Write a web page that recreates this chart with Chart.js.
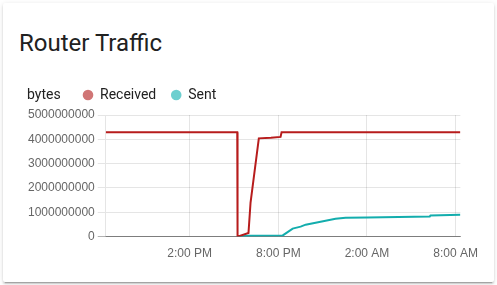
<!DOCTYPE html>
<html>
<head>
<meta charset="utf-8">
<script src="https://cdn.jsdelivr.net/npm/chart.js@4.4.0/dist/chart.umd.min.js"></script>
<style>
  body { margin: 0; background: #fff; }
  .card {
    position: absolute; left: 3px; top: 3px; width: 491px; height: 279px;
    background: #fff; border-radius: 2px;
    box-shadow: 0 2px 2px 0 rgba(0,0,0,.14), 0 1px 5px 0 rgba(0,0,0,.12), 0 3px 1px -2px rgba(0,0,0,.2);
  }
  .title {
    position: absolute; left: 16px; top: 24px;
    font: 24px/32px Roboto, sans-serif; color: #212121;
  }
  .chart-wrap { position: absolute; left: 16px; top: 71px; width: 469px; height: 197px; }
</style>
</head>
<body>
<div class="card">
  <div class="title">Router Traffic</div>
  <div class="chart-wrap"><canvas id="chart"></canvas></div>
</div>
<script>
// hours since midnight of the first day
const receivedHours = [8.32, 17.22, 17.24, 17.98, 18.12, 18.68, 19.5, 20.15, 20.22, 32.32];
const receivedBytes = [4.29e9, 4.29e9, 0, 0.15e9, 1.4e9, 4.04e9, 4.06e9, 4.1e9, 4.29e9, 4.29e9];

const sentHours = [17.23, 17.98, 20.3, 20.97, 21.51, 21.85, 22.86, 23.87, 24.55, 26.01, 30.25, 30.3, 32.32];
const sentBytes = [0, 0.04e9, 0.05e9, 0.33e9, 0.41e9, 0.49e9, 0.61e9, 0.73e9, 0.77e9, 0.79e9, 0.83e9, 0.87e9, 0.9e9];

const xTicks = [14, 20, 26, 32];
const xTickLabels = ['2:00 PM', '8:00 PM', '2:00 AM', '8:00 AM'];

const unitText = 'bytes';

const toPoints = (xs, ys) => xs.map((x, i) => ({ x: x, y: ys[i] }));

// draws the unit left of the legend and moves the legend over to make room
const unitLegend = {
    id: 'unitLegend',
    afterLayout(chart, args, opts) {
        const lg = chart.legend;
        lg.left += opts.shiftX;
        lg.right += opts.shiftX;
        lg.top += opts.shiftY;
        lg.bottom += opts.shiftY;
    },
    afterDraw(chart, args, opts) {
        const lg = chart.legend;
        const pad = lg.options.labels.padding;
        const ctx = chart.ctx;
        ctx.save();
        ctx.font = '14px Roboto';
        ctx.fillStyle = '#212121';
        ctx.textBaseline = 'middle';
        ctx.fillText(opts.text, lg.left - opts.shiftX + 2, lg.top + pad + 7);
        ctx.restore();
    }
};

const ctx = document.getElementById('chart').getContext('2d');
new Chart(ctx, {
    type: 'line',
    data: {
        datasets: [
            {
                label: 'Received',
                data: toPoints(receivedHours, receivedBytes),
                borderColor: '#b71c1c',
                backgroundColor: '#d07575',
                borderWidth: 2,
                pointRadius: 0,
                fill: false,
                tension: 0,
            },
            {
                label: 'Sent',
                data: toPoints(sentHours, sentBytes),
                borderColor: '#13adad',
                backgroundColor: '#6dcfcf',
                borderWidth: 2,
                pointRadius: 0,
                fill: false,
                tension: 0,
            },
        ],
    },
    plugins: [unitLegend],
    options: {
        responsive: true,
        maintainAspectRatio: false,
        animation: false,
        layout: {
            padding: { left: 6, top: 2, right: 0, bottom: 0 }
        },
        plugins: {
            unitLegend: { text: unitText, shiftX: 43, shiftY: -3 },
            legend: {
                display: true,
                position: 'top',
                align: 'start',
                labels: {
                    usePointStyle: true,
                    pointStyle: 'circle',
                    boxWidth: 10,
                    boxHeight: 7.5,
                    padding: 15,
                    color: '#212121',
                    font: { family: 'Roboto', size: 14 },
                    generateLabels: (chart) => {
                        const items = Chart.defaults.plugins.legend.labels.generateLabels(chart);
                        items.forEach(it => { it.strokeStyle = it.fillStyle; it.lineWidth = 0; });
                        return items;
                    }
                },
            },
            tooltip: { enabled: false },
        },
        scales: {
            x: {
                type: 'linear',
                min: 8.32,
                max: 32.32,
                afterBuildTicks: (scale) => {
                    scale.ticks = xTicks.map(v => ({ value: v }));
                },
                grid: { color: 'rgba(0,0,0,0.1)', drawTicks: false },
                border: { color: 'rgba(0,0,0,0.3)' },
                ticks: {
                    padding: 10,
                    maxRotation: 0,
                    autoSkip: false,
                    color: '#666',
                    font: { size: 12 },
                    callback: (value) => xTickLabels[xTicks.indexOf(value)],
                },
            },
            y: {
                min: 0,
                max: 5000000000,
                grid: {
                    color: (c) => (c.tick && c.tick.value === 0) ? 'rgba(0,0,0,0.3)' : 'rgba(0,0,0,0.1)',
                },
                border: { color: 'rgba(0,0,0,0.1)' },
                ticks: {
                    stepSize: 1000000000,
                    color: '#666',
                    font: { size: 12 },
                    callback: (value) => String(value),
                },
            },
        },
    },
});
</script>
</body>
</html>
